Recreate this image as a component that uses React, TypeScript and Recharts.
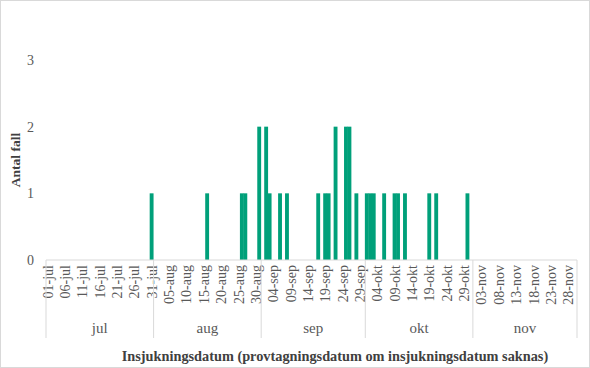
import { BarChart, Bar, XAxis, YAxis } from "recharts";

const months = ["jul", "aug", "sep", "okt", "nov"];
const monthDays = [31, 31, 30, 31, 30];

// dates with reported cases and the count for each
const caseDates = [
  "31-jul", "16-aug", "26-aug", "27-aug", "31-aug",
  "02-sep", "03-sep", "06-sep", "08-sep", "17-sep", "19-sep", "20-sep",
  "22-sep", "25-sep", "26-sep", "28-sep",
  "01-okt", "02-okt", "03-okt", "06-okt", "09-okt", "10-okt", "12-okt",
  "19-okt", "21-okt", "30-okt",
];
const caseCounts = [
  1, 1, 1, 1, 2,
  2, 1, 1, 1, 1, 1, 1,
  2, 2, 2, 1,
  1, 1, 1, 1, 1, 1, 1,
  1, 1, 1,
];

const yTicks = [0, 1, 2, 3];

const xTitle = "Insjukningsdatum (provtagningsdatum om insjukningsdatum saknas)";
const yTitle = "Antal fall";

// one category per day, jul - nov
const days: string[] = [];
const monthStart: number[] = [];
months.forEach((m, mi) => {
  monthStart.push(days.length);
  for (let d = 1; d <= monthDays[mi]; d++) {
    days.push(String(d).padStart(2, "0") + "-" + m);
  }
});

const data = days.map((day) => {
  const k = caseDates.indexOf(day);
  return { day, antal: k >= 0 ? caseCounts[k] : 0 };
});

const W = 590;
const H = 368;
const LEFT = 46;
const RIGHT = 13;
const band = (W - LEFT - RIGHT) / days.length;

const FONT = "'Liberation Serif', 'Times New Roman', serif";
const GRID = "#d9d9d9";
const BAR = "#00a07a";

function DayTick(props: any) {
  const { x, y, payload } = props;
  const i = payload.index ?? props.index;
  const mi = monthStart.indexOf(i);
  const out: any[] = [];
  if (i % 5 === 0) {
    out.push(
      <text
        key="t"
        x={x}
        y={y + 5}
        dy="0.35em"
        transform={`rotate(-90 ${x} ${y + 5})`}
        textAnchor="end"
        fontSize={14}
        fontFamily={FONT}
        fill="#595959"
      >
        {payload.value}
      </text>
    );
  }
  if (mi >= 0) {
    const x0 = x - band / 2;
    out.push(<line key="s" x1={x0} y1={y} x2={x0} y2={y + 78} stroke={GRID} />);
    out.push(
      <text
        key="m"
        x={x0 + (monthDays[mi] * band) / 2}
        y={y + 73}
        textAnchor="middle"
        fontSize={15}
        fontFamily={FONT}
        fill="#595959"
      >
        {months[mi]}
      </text>
    );
  }
  if (i === days.length - 1) {
    out.push(<line key="e" x1={x + band / 2} y1={y} x2={x + band / 2} y2={y + 78} stroke={GRID} />);
  }
  return <g>{out}</g>;
}

// bars fill the whole day slot (a hair wider), so neighbouring days join up
const renderDayBar = (props: any) => {
  const { x, y, width, height } = props;
  if (!height) return <g />;
  const cx = x + width / 2;
  const w = band + 0.4;
  return <rect x={cx - w / 2} y={y} width={w} height={height} fill={BAR} />;
};

function XTitle() {
  return (
    <text x={335} y={361} textAnchor="middle" fontSize={14.3} fontWeight="bold" fontFamily={FONT} fill="#404040">
      {xTitle}
    </text>
  );
}

function YTitle() {
  return (
    <text
      x={15}
      y={160}
      dy="0.35em"
      transform="rotate(-90 15 160)"
      textAnchor="middle"
      fontSize={13.5}
      fontWeight="bold"
      fontFamily={FONT}
      fill="#404040"
    >
      {yTitle}
    </text>
  );
}

export default function App() {
  return (
    <div
      style={{
        position: "absolute",
        left: 0,
        top: 0,
        width: W,
        height: H,
        background: "#fff",
        boxShadow: `inset 0 0 0 1px ${GRID}`,
      }}
    >
      <BarChart
        width={W}
        height={H}
        data={data}
        margin={{ top: 60, right: RIGHT, bottom: 0, left: 0 }}
        barCategoryGap={0}
      >
        <XAxis
          dataKey="day"
          interval={0}
          height={108}
          tickLine={false}
          tickSize={0}
          tickMargin={0}
          axisLine={{ stroke: GRID }}
          tick={<DayTick />}
          label={<XTitle />}
        />
        <YAxis
          width={LEFT}
          domain={[0, 3]}
          ticks={yTicks}
          axisLine={false}
          tickLine={false}
          tickSize={0}
          tickMargin={12}
          tick={{ fontSize: 14, fontFamily: FONT, fill: "#595959" }}
          label={<YTitle />}
        />
        <Bar dataKey="antal" fill={BAR} shape={renderDayBar} isAnimationActive={false} />
      </BarChart>
    </div>
  );
}
